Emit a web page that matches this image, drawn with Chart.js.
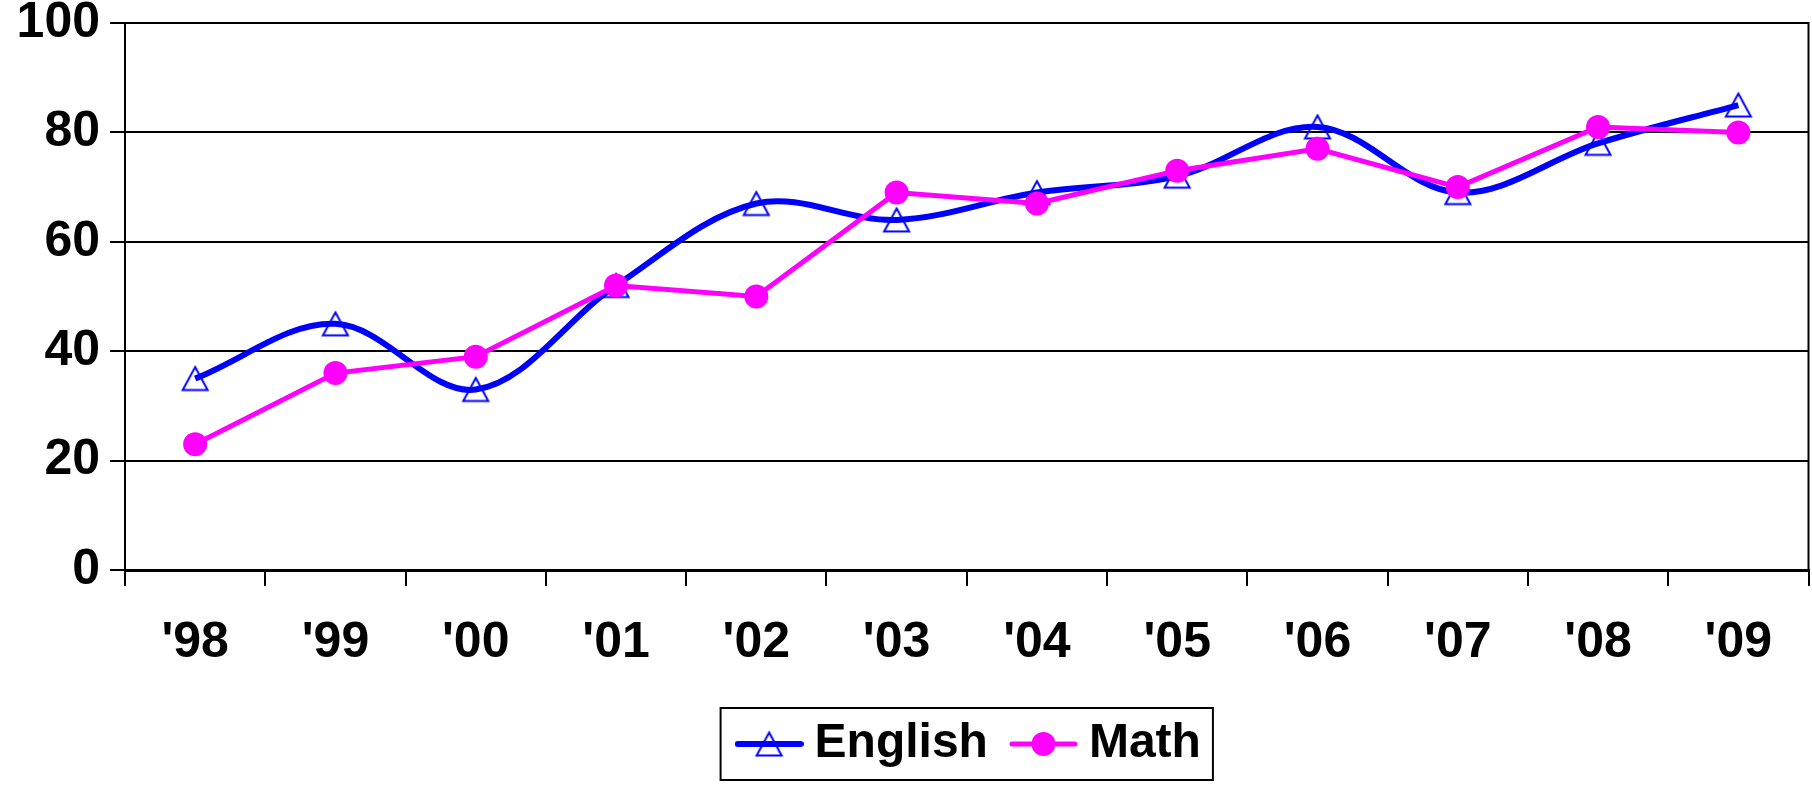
<!DOCTYPE html>
<html>
<head>
<meta charset="utf-8">
<script src="https://cdn.jsdelivr.net/npm/chart.js@4/dist/chart.umd.min.js"></script>
<style>
html, body { margin: 0; padding: 0; background: #fff; }
#wrap { width: 1812px; height: 785px; }
</style>
</head>
<body>
<div id="wrap"><canvas id="chart" width="1812" height="785"></canvas></div>
<script>
// data
var years = ["'98", "'99", "'00", "'01", "'02", "'03", "'04", "'05", "'06", "'07", "'08", "'09"];
var english = [35, 45, 33, 52, 67, 64, 69, 72, 81, 69, 78, 85];
var math = [23, 36, 39, 52, 50, 69, 67, 73, 77, 70, 81, 80];
var yMin = 0, yMax = 100, yStep = 20;

Chart.defaults.font.family = '"Liberation Sans", Arial, sans-serif';
Chart.defaults.color = '#000';

// hollow triangle, centred on its box like the Excel marker
function triPath(g, cx, cy) {
    g.beginPath();
    g.moveTo(cx, cy - 11.5);
    g.lineTo(cx + 12.5, cy + 11.5);
    g.lineTo(cx - 12.5, cy + 11.5);
    g.closePath();
}
var triMarker = document.createElement('canvas');
triMarker.width = 30; triMarker.height = 28;
(function() {
    var g = triMarker.getContext('2d');
    g.strokeStyle = '#0000FF';
    g.lineWidth = 2;
    triPath(g, 15, 14);
    g.stroke();
})();

// little line+marker pictures for the legend
function swatch(color, lw, kind) {
    var c = document.createElement('canvas');
    c.width = 69; c.height = 34;
    var g = c.getContext('2d');
    g.strokeStyle = color;
    g.lineWidth = lw;
    g.lineCap = 'round';
    g.beginPath(); g.moveTo(3, 17); g.lineTo(66, 17); g.stroke();
    if (kind == 'triangle') {
        g.lineWidth = 2;
        triPath(g, 34.5, 17);
        g.stroke();
    } else {
        g.fillStyle = color;
        g.beginPath(); g.arc(34.5, 17, 12, 0, Math.PI * 2); g.fill();
    }
    return c;
}
var engSwatch = swatch('#0000FF', 6, 'triangle');
var mathSwatch = swatch('#FF00FF', 5, 'circle');

// right border of plot + box round the legend, legend box centred on plot
var frame = {
    id: 'frame',
    afterLayout: function(chart) {
        var a = chart.chartArea, lg = chart.legend;
        var shift = (a.left + a.right) / 2 - ((lg.left + lg.right) / 2 - 7.5);
        lg.left += shift;
        lg.right += shift;
    },
    afterDraw: function(chart) {
        var ctx = chart.ctx, a = chart.chartArea;
        ctx.save();
        ctx.strokeStyle = '#000';
        ctx.lineWidth = 2;
        ctx.beginPath(); ctx.moveTo(a.right, a.top - 1); ctx.lineTo(a.right, a.bottom); ctx.stroke();
        var hb = chart.legend.legendHitBoxes;
        if (hb && hb.length) {
            var first = hb[0], last = hb[hb.length - 1];
            var l = first.left - 27, r = last.left + last.width + 12;
            var t = first.top - 12, b = first.top + first.height + 12;
            ctx.strokeRect(l, t, r - l, b - t);
        }
        ctx.restore();
    }
};

var chart = new Chart(document.getElementById('chart').getContext('2d'), {
    type: 'line',
    data: {
        labels: years,
        datasets: [
            {
                label: 'English',
                data: english,
                borderColor: '#0000FF',
                borderWidth: 6,
                tension: 0.35,
                pointStyle: triMarker,
                pointRadius: 14,
                order: 1
            },
            {
                label: 'Math',
                data: math,
                borderColor: '#FF00FF',
                borderWidth: 5,
                tension: 0,
                pointStyle: 'circle',
                pointRadius: 12,
                pointBorderWidth: 0,
                pointBackgroundColor: '#FF00FF',
                order: 0
            }
        ]
    },
    options: {
        responsive: false,
        animation: false,
        layout: { autoPadding: false, padding: { top: 23, left: 0, right: 3.5, bottom: 7 } },
        plugins: {
            tooltip: { enabled: false },
            legend: {
                position: 'bottom',
                labels: {
                    usePointStyle: true,
                    pointStyleWidth: 43,
                    padding: 34,
                    font: { size: 48, weight: 'bold' },
                    generateLabels: function(chart) {
                        return [
                            { text: 'English', pointStyle: engSwatch, datasetIndex: 0, fontColor: '#000', lineWidth: 0, hidden: false },
                            { text: 'Math', pointStyle: mathSwatch, datasetIndex: 1, fontColor: '#000', lineWidth: 0, hidden: false }
                        ];
                    }
                }
            }
        },
        scales: {
            x: {
                offset: true,
                afterFit: function(s) { s.height = 116; s.paddingLeft = 0; s.paddingRight = 0; },
                grid: { display: true, offset: true, drawOnChartArea: false, drawTicks: true, tickLength: 16, color: '#000', lineWidth: 2 },
                border: { display: true, color: '#000', width: 3 },
                ticks: { padding: 13, font: { size: 50, weight: 'bold', lineHeight: 1.76 }, maxRotation: 0 }
            },
            y: {
                min: yMin,
                max: yMax,
                afterFit: function(s) { s.width = 125; s.paddingTop = 0; s.paddingBottom = 0; },
                ticks: { stepSize: yStep, padding: 10, font: { size: 50, weight: 'bold', lineHeight: 1 } },
                grid: { color: '#000', lineWidth: 2, tickLength: 15, drawTicks: true },
                border: { display: true, color: '#000', width: 2 }
            }
        }
    },
    plugins: [frame]
});
</script>
</body>
</html>
